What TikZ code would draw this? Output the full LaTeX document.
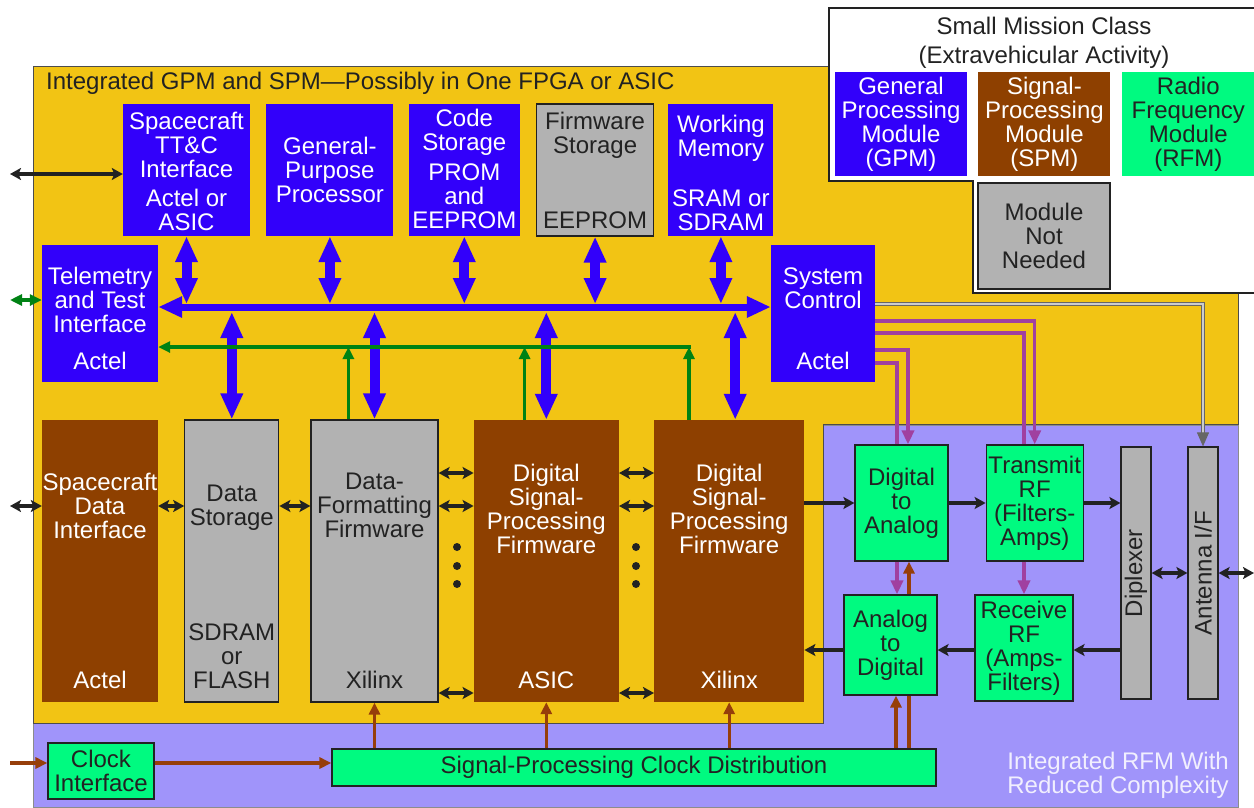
\documentclass[tikz,border=0pt]{standalone}
\usepackage{fontspec}
\setmainfont{Liberation Sans}
\usepackage{graphicx}
\usepackage{tikz}
\usetikzlibrary{arrows.meta, positioning}

\definecolor{gpmblue}{RGB}{50,0,250}
\definecolor{spmbrown}{RGB}{142,64,0}
\definecolor{rfmgreen}{RGB}{0,250,128}
\definecolor{unusedgray}{RGB}{178,178,178}
\definecolor{coreyellow}{RGB}{242,196,20}
\definecolor{rfmlilac}{RGB}{160,148,250}
\definecolor{ctrlpink}{RGB}{160,64,160}
\definecolor{tmgreen}{RGB}{0,130,20}
\definecolor{clkbrown}{RGB}{150,62,10}
\definecolor{ink}{RGB}{34,34,34}

\pgfdeclarelayer{regions}
\pgfdeclarelayer{wires}
\pgfsetlayers{regions,wires,main}

\begin{document}
\begin{tikzpicture}[x=1pt, y=-1pt, font=\fontsize{24}{24}\selectfont]

\tikzstyle{gpm} = [rectangle, fill=gpmblue, text=white, align=center, inner sep=0pt]
\tikzstyle{spm} = [rectangle, fill=spmbrown, text=white, align=center, inner sep=0pt]
\tikzstyle{rfm} = [rectangle, fill=rfmgreen, draw=ink, line width=1.2pt, text=ink, align=center, inner sep=0pt]
\tikzstyle{unused} = [rectangle, fill=unusedgray, draw=ink, line width=1.2pt, text=ink, align=center, inner sep=0pt]
\tikzstyle{lighttext} = [text=white, align=center, inner sep=0pt]
\tikzstyle{darktext} = [text=ink, align=center, inner sep=0pt]
\tikzstyle{arrow} = [line width=3.5pt, draw=ink, >={Stealth[length=11pt,width=12pt,inset=2.5pt]}]
\tikzstyle{bus} = [line width=10pt, draw=gpmblue, <->, >={Triangle[length=26pt,width=21pt]}]
\tikzstyle{tmline} = [line width=3.2pt, draw=tmgreen, >={Triangle[length=12pt,width=11pt]}]
\tikzstyle{clock} = [line width=3.2pt, draw=clkbrown, >={Triangle[length=12pt,width=11pt]}]
\tikzstyle{ctrl} = [line width=3.5pt, draw=ctrlpink, >={Triangle[length=14pt,width=12pt]}]
\tikzstyle{status} = [line width=1pt, draw=gray!80!black, double=gray!40, double distance=1.8pt, ->, >={Triangle[length=14pt,width=12pt]}]

\useasboundingbox (0,0) rectangle (1254,807);

% Areas behind the blocks
\begin{pgfonlayer}{regions}
\draw[fill=rfmlilac, draw=black!45, line width=1pt] (33,425) rectangle (1238,807);
\draw[fill=coreyellow, draw=black!70, line width=1pt] (33,66) -- (1238,66) -- (1238,424) -- (823,424) -- (823,723) -- (33,723) -- cycle;
\draw[fill=white, draw=ink, line width=1.2pt] (829,8) -- (1258,8) -- (1258,293) -- (973,293) -- (973,181) -- (829,181) -- cycle;
\end{pgfonlayer}

\node (coretitle) [darktext, anchor=west] at (46,83) {Integrated GPM and SPM---Possibly in One FPGA or ASIC};
\node (rftitle) [anchor=east, align=right, inner sep=0pt, text=white!85!rfmlilac] at (1229,775) {Integrated RFM With\\Reduced Complexity};

% Top row: GPM blocks
\node (tc) [gpm, minimum width=127pt, minimum height=132pt] at (186.5,170) {};
\node (tctop) [lighttext, below=8.5pt of tc.north] {Spacecraft\\TT\&C\\Interface};
\node (tcbot) [lighttext, above=5.6pt of tc.south] {Actel or\\ASIC};
\node (gpp) [gpm, right=16pt of tc, minimum width=127pt, minimum height=132pt] {General-\\Purpose\\Processor};
\node (cs) [gpm, right=15pt of gpp, minimum width=111pt, minimum height=132pt] {};
\node (cstop) [lighttext, below=5.5pt of cs.north] {Code\\Storage};
\node (csbot) [lighttext, above=7.6pt of cs.south] {PROM\\and\\EEPROM};
\node (fw) [unused, right=16pt of cs, minimum width=117pt, minimum height=132pt] {};
\node (fwtop) [darktext, below=8.5pt of fw.north] {Firmware\\Storage};
\node (fwbot) [darktext, above=7.6pt of fw.south] {EEPROM};
\node (wm) [gpm, right=14pt of fw, minimum width=105pt, minimum height=132pt] {};
\node (wmtop) [lighttext, below=11.5pt of wm.north] {Working\\Memory};
\node (wmbot) [lighttext, above=5.6pt of wm.south] {SRAM or\\SDRAM};

\node (tti) [gpm, minimum width=116pt, minimum height=137pt] at (100,313.5) {};
\node (ttitop) [lighttext, below=22.5pt of tti.north] {Telemetry\\and Test\\Interface};
\node (ttibot) [lighttext, above=12.6pt of tti.south] {Actel};
\node (sc) [gpm, minimum width=104pt, minimum height=137pt] at (823,313.5) {};
\node (sctop) [lighttext, below=22.5pt of sc.north] {System\\Control};
\node (scbot) [lighttext, above=12.6pt of sc.south] {Actel};

% Bottom row: data path
\node (sdi) [spm, minimum width=116pt, minimum height=282pt] at (100,561) {};
\node (sditop) [lighttext, below=53.5pt of sdi.north] {Spacecraft\\Data\\Interface};
\node (sdibot) [lighttext, above=13.6pt of sdi.south] {Actel};
\node (ds) [unused, right=26pt of sdi, minimum width=94pt, minimum height=282pt] {};
\node (dstop) [darktext, below=65.5pt of ds.north] {Data\\Storage};
\node (dsbot) [darktext, above=13.6pt of ds.south] {SDRAM\\or\\FLASH};
\node (df) [unused, right=31pt of ds, minimum width=127pt, minimum height=282pt] {};
\node (dftop) [darktext, below=53.5pt of df.north] {Data-\\Formatting\\Firmware};
\node (dfbot) [darktext, above=13.6pt of df.south] {Xilinx};
\node (dspa) [spm, right=35pt of df, minimum width=145pt, minimum height=282pt] {};
\node (dspatop) [lighttext, below=44.5pt of dspa.north] {Digital\\Signal-\\Processing\\Firmware};
\node (dspabot) [lighttext, above=13.6pt of dspa.south] {ASIC};
\node (dspb) [spm, right=35pt of dspa, minimum width=150pt, minimum height=282pt] {};
\node (dspbtop) [lighttext, below=44.5pt of dspb.north] {Digital\\Signal-\\Processing\\Firmware};
\node (dspbbot) [lighttext, above=13.6pt of dspb.south] {Xilinx};

% RF section
\node (da) [rfm, minimum width=93pt, minimum height=116pt] at (901.5,503) {Digital\\to\\Analog};
\node (tx) [rfm, right=37pt of da, minimum width=97pt, minimum height=116pt] {Transmit\\RF\\(Filters-\\Amps)};
\node (ad) [rfm, minimum width=93pt, minimum height=100pt] at (890.5,645) {Analog\\to\\Digital};
\node (rx) [rfm, minimum width=98pt, minimum height=106pt] at (1024,648) {Receive\\RF\\(Amps-\\Filters)};
\node (dip) [unused, minimum width=30pt, minimum height=252pt] at (1136,573) {\rotatebox{90}{Diplexer}};
\node (ant) [unused, minimum width=30pt, minimum height=252pt] at (1203,573) {\rotatebox{90}{Antenna I/F}};

\node (ci) [rfm, minimum width=106pt, minimum height=56pt] at (101,771) {Clock\\Interface};
\node (clk) [rfm, minimum width=604pt, minimum height=37pt] at (634,767.5) {Signal-Processing Clock Distribution};

% Legend
\node (legtitle) [darktext] at (1044,42.5) {Small Mission Class\\[5pt](Extravehicular Activity)};
\node (leggpm) [gpm, minimum width=132pt, minimum height=104pt] at (901,124) {General\\Processing\\Module\\(GPM)};
\node (legspm) [spm, right=11pt of leggpm, minimum width=132pt, minimum height=104pt] {Signal-\\Processing\\Module\\(SPM)};
\node (legrfm) [rectangle, fill=rfmgreen, text=ink, align=center, inner sep=0pt, right=11pt of legspm, minimum width=133pt, minimum height=104pt] {Radio\\Frequency\\Module\\(RFM)};
\node (legnone) [unused, minimum width=132pt, minimum height=106pt] at (1044,236) {Module\\Not\\Needed};

% Processor bus
\coordinate (bus) at (0,307);
\coordinate (busup) at (0,304);
\coordinate (busdown) at (0,312);
\coordinate (dspbtap) at ([xshift=6pt]dspb.north);
\draw[bus, line width=7pt, >={Triangle[length=24pt,width=20pt]}] (tti.east |- bus) -- (sc.west |- bus);
\foreach \n in {tc,gpp,cs,fw,wm}
  \draw[bus] (\n.south) -- (\n.south |- busup);
\foreach \n in {ds,df,dspa}
  \draw[bus] (\n.north |- busdown) -- (\n.north);
\draw[bus] (dspbtap |- busdown) -- (dspbtap);

% Telemetry lines
\coordinate (tmport) at (10,300);
\coordinate (tmend) at (691,347);
\draw[tmline,<->] (tmport) -- (tti.west |- tmport);
\draw[tmline,->] (tmend) -- (tti.east |- tmend);
\draw[tmline,->] ([xshift=38pt]df.north west) -- ([xshift=38pt]df.north west |- tmend);
\draw[tmline,->] ([xshift=51pt]dspa.north west) -- ([xshift=51pt]dspa.north west |- tmend);
\draw[tmline,->] ([xshift=35pt]dspb.north west) -- ([xshift=35pt]dspb.north west |- tmend);

% Data path
\coordinate (ttcport) at (10,174);
\coordinate (datarow) at (10,506);
\draw[arrow,<->] (ttcport) -- (tc.west |- ttcport);
\draw[arrow,<->] (datarow) -- (sdi.west |- datarow);
\draw[arrow,<->] (sdi.east |- datarow) -- (ds.west |- datarow);
\draw[arrow,<->] (ds.east |- datarow) -- (df.west |- datarow);
\foreach \y in {473,506,693} {
  \draw[arrow,<->] (df.east |- 0,\y) -- (dspa.west |- 0,\y);
  \draw[arrow,<->] (dspa.east |- 0,\y) -- (dspb.west |- 0,\y);
}
\foreach \y in {547,566,584} {
  \fill[ink] (457,\y) circle (4pt);
  \fill[ink] (636,\y) circle (4pt);
}

% RF chain
\coordinate (rxrow) at (0,650);
\coordinate (antport) at (1254,573);
\draw[arrow,->] (dspb.east |- da.west) -- (da.west);
\draw[arrow,->] (da.east) -- (tx.west);
\draw[arrow,->] (tx.east) -- (tx.east -| dip.west);
\draw[arrow,->] (dip.west |- rxrow) -- (rx.east |- rxrow);
\draw[arrow,->] (rx.west |- rxrow) -- (ad.east |- rxrow);
\draw[arrow,->] (ad.west |- rxrow) -- (dspb.east |- rxrow);
\draw[arrow,<->] (dip.east) -- (ant.west);
\draw[arrow,<->] (ant.east) -- (antport);

% Control and status from System Control
\draw[ctrl,->] (sc.east |- 0,321) -| (tx.north);
\draw[ctrl] (sc.east |- 0,333) -| ([xshift=-10.5pt]tx.north);
\draw[ctrl,->] (sc.east |- 0,350) -| ([xshift=6.5pt]da.north);
\draw[ctrl] (sc.east |- 0,363) -| ([xshift=-4.5pt]da.north);
\draw[ctrl,->] (rx.north |- tx.south) -- (rx.north);
\draw[ctrl,->] ([xshift=-4.5pt]da.south) -- ([xshift=-4.5pt]da.south |- ad.north);
\draw[status] (sc.east |- 0,304) -| (ant.north);

% Clocks
\coordinate (clkin) at (10,763);
\draw[clock,->] (clkin) -- ([yshift=8pt]ci.west);
\draw[clock,->] ([yshift=8pt]ci.east) -- ([yshift=8pt]ci.east -| clk.west);
\foreach \n in {df,dspa,dspb}
  \draw[clock,->] (\n.south |- clk.north) -- (\n.south);
\draw[clock,->] ([xshift=5.5pt]ad.south |- clk.north) -- ([xshift=5.5pt]ad.south);
\begin{pgfonlayer}{wires}
\draw[clock,->] ([xshift=7.5pt]da.south |- clk.north) -- ([xshift=7.5pt]da.south);
\end{pgfonlayer}

\end{tikzpicture}
\end{document}
